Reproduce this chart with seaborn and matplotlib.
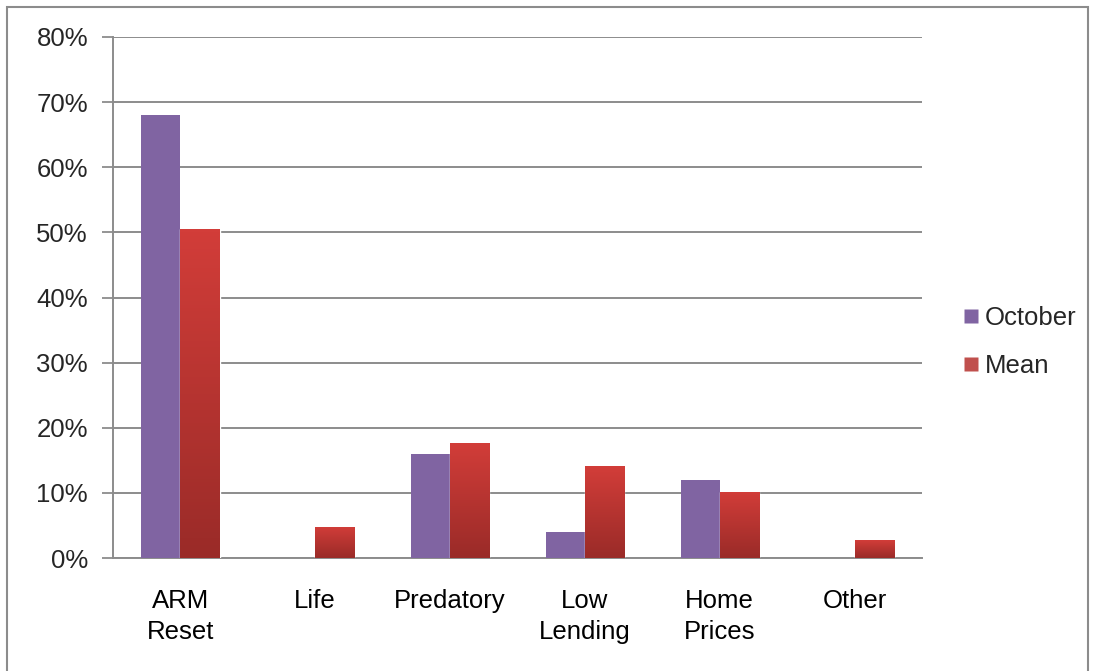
import numpy as np
import pandas as pd
import matplotlib
matplotlib.use("Agg")
import matplotlib.pyplot as plt
from matplotlib.colors import LinearSegmentedColormap
from matplotlib.lines import Line2D
from matplotlib.ticker import PercentFormatter
import seaborn as sns

# data
categories = ["ARM\nReset", "Life", "Predatory", "Low\nLending", "Home\nPrices", "Other"]
october = [0.68, 0.0, 0.16, 0.04, 0.12, 0.0]
mean = [0.505, 0.048, 0.177, 0.141, 0.102, 0.027]
series_names = ["October", "Mean"]

purple = "#8064A2"
red_top = "#D23D39"
red_bottom = "#9A2B28"
grid_gray = "#8C8C8C"
fs = 18.5

df = pd.DataFrame({
    "category": categories * 2,
    "value": october + mean,
    "series": [series_names[0]] * len(categories) + [series_names[1]] * len(categories),
})

sns.set_theme(style="white")
plt.rcParams["font.family"] = ["Liberation Sans", "DejaVu Sans"]

W, H = 1094, 671
fig = plt.figure(figsize=(W / 100, H / 100), dpi=100)
ax = fig.add_axes([113 / W, 1 - 558 / H, (922 - 113) / W, (558 - 37) / H])

sns.barplot(data=df, x="category", y="value", hue="series", order=categories,
            hue_order=series_names, palette=[purple, "#C0504D"], width=0.58,
            saturation=1, ax=ax, legend=False, zorder=3)

# gradient fill on the Mean bars
grad = LinearSegmentedColormap.from_list("redgrad", [red_bottom, red_top])
for patch in ax.containers[1]:
    x0, y0 = patch.get_x(), patch.get_y()
    w, h = patch.get_width(), patch.get_height()
    if h <= 0:
        continue
    img = ax.imshow(np.linspace(0, 1, 100).reshape(-1, 1), cmap=grad, origin="lower",
                    extent=[x0, x0 + w, y0, y0 + h], aspect="auto", zorder=3.1)
    img.set_clip_path(patch)
    patch.set_facecolor("none")
for patch in ax.containers[0]:
    patch.set_edgecolor("none")

ax.set_xlim(-0.5, len(categories) - 0.5)
ax.set_ylim(0, 0.8)
ax.set_yticks(np.arange(0, 0.81, 0.1))
ax.yaxis.set_major_formatter(PercentFormatter(1.0, decimals=0))
ax.set_xticks(range(len(categories)))
ax.set_xticklabels(categories, fontsize=fs, linespacing=1.4, va="top")
ax.set_xticks(np.arange(-0.5, len(categories), 1), minor=True)
ax.tick_params(axis="x", which="major", length=0, pad=22, colors="black")
ax.tick_params(axis="x", which="minor", length=8, width=1.3, color=grid_gray, direction="out")
ax.tick_params(axis="y", length=8, width=1.3, color=grid_gray, direction="out",
               pad=10, labelsize=fs, left=True)
ax.set_xlabel("")
ax.set_ylabel("")

ax.grid(axis="y", color=grid_gray, linewidth=1.4, zorder=0)
ax.set_axisbelow(True)
for side in ["top", "right"]:
    ax.spines[side].set_visible(False)
for side in ["left", "bottom"]:
    ax.spines[side].set_color(grid_gray)
    ax.spines[side].set_linewidth(1.4)

handles = [Line2D([], [], marker="s", linestyle="none", markersize=10.5,
                  markerfacecolor=c, markeredgecolor="none") for c in [purple, "#C0504D"]]
fig.legend(handles, series_names, loc="center left", bbox_to_anchor=(963 / W, 1 - 342 / H),
           frameon=False, fontsize=fs, handlelength=0.6, handletextpad=0.25,
           labelspacing=0.9, borderpad=0, borderaxespad=0)

# outer chart border
border = plt.Rectangle((7 / W, -0.05), (1088 - 7) / W, 1 - 7 / H + 0.05,
                       transform=fig.transFigure, fill=False, edgecolor="#8C8C8C", linewidth=1.5)
fig.add_artist(border)

fig.savefig("out.png", dpi=100)
